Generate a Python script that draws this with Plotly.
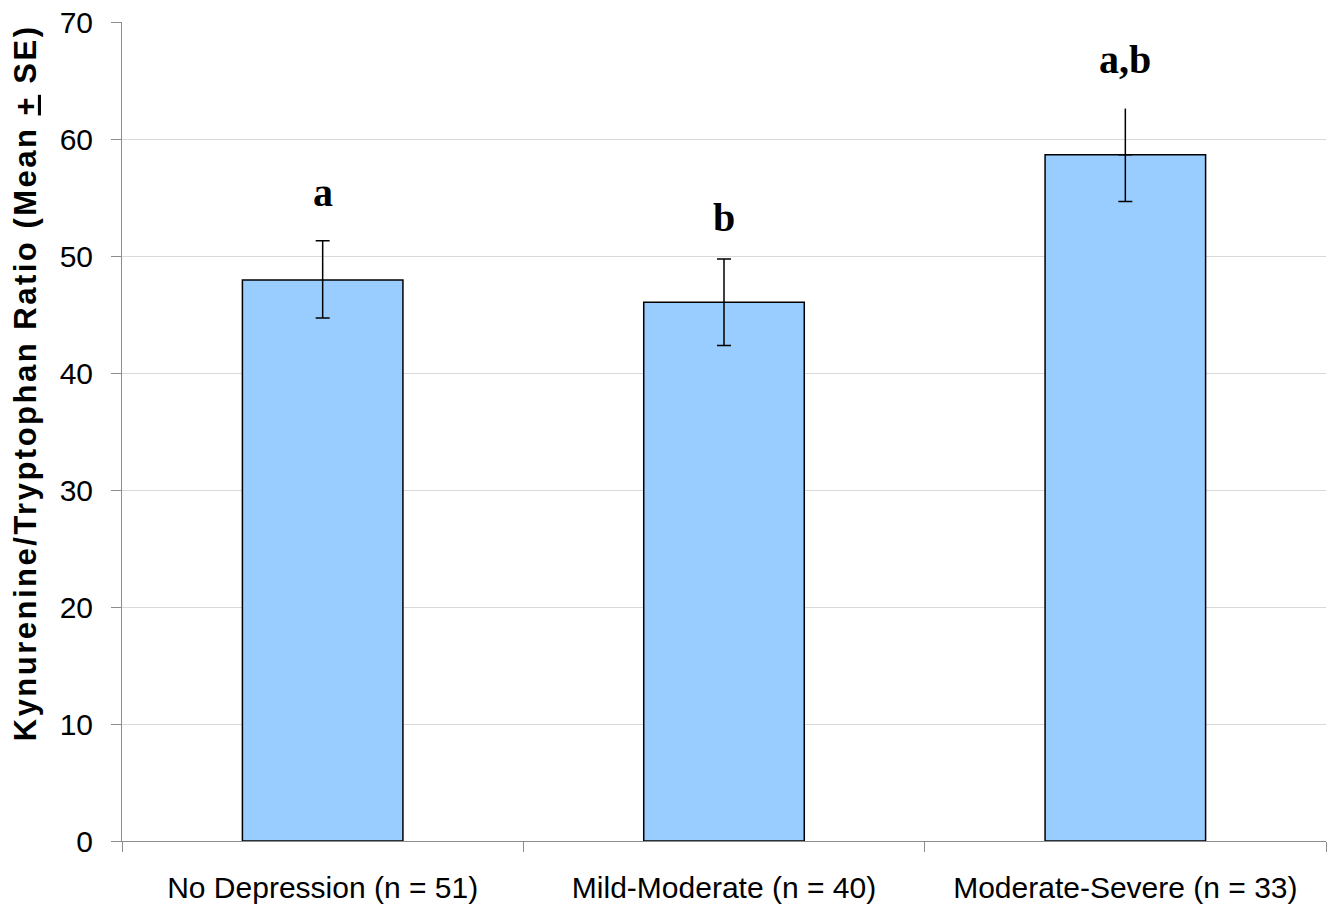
import plotly.graph_objects as go

categories = ["No Depression (n = 51)", "Mild-Moderate (n = 40)", "Moderate-Severe (n = 33)"]
means = [47.95, 46.05, 58.65]
se_upper = [3.35, 3.7, 3.95]
se_lower = [3.25, 3.7, 4.0]
sig_labels = ["a", "b", "a,b"]
sig_label_y = [53.3, 51.2, 64.7]
upper_cap = [True, True, False]
y_title = "Kynurenine/Tryptophan Ratio (Mean <u>+</u> SE)"

fig = go.Figure()
fig.add_trace(go.Bar(
    x=categories, y=means,
    marker=dict(color="#99CCFF", line=dict(color="black", width=1.5)),
    showlegend=False, hoverinfo="skip",
))

for i, c in enumerate(categories):
    if upper_cap[i]:
        fig.add_trace(go.Scatter(
            x=[c], y=[means[i]], mode="markers", marker=dict(size=1, opacity=0),
            error_y=dict(type="data", symmetric=False, array=[se_upper[i]], arrayminus=[se_lower[i]],
                         color="black", thickness=1.5, width=7),
            showlegend=False, hoverinfo="skip"))
    else:
        fig.add_trace(go.Scatter(
            x=[c], y=[means[i]], mode="markers", marker=dict(size=1, opacity=0),
            error_y=dict(type="data", symmetric=False, array=[se_upper[i]], arrayminus=[0],
                         color="black", thickness=1.5, width=0),
            showlegend=False, hoverinfo="skip"))
        fig.add_trace(go.Scatter(
            x=[c], y=[means[i]], mode="markers", marker=dict(size=1, opacity=0),
            error_y=dict(type="data", symmetric=False, array=[0], arrayminus=[se_lower[i]],
                         color="black", thickness=1.5, width=7),
            showlegend=False, hoverinfo="skip"))

for c, lab, ly in zip(categories, sig_labels, sig_label_y):
    fig.add_annotation(x=c, y=ly, text="<b>%s</b>" % lab, showarrow=False,
                       yanchor="bottom", xanchor="center",
                       font=dict(family="Liberation Serif, Times New Roman, serif", size=40, color="black"))

# y-axis title as a rotated annotation (placed like the reference, not centred on the axis)
fig.add_annotation(
    xref="paper", yref="paper", x=-0.0805, y=0.559,
    xanchor="center", yanchor="middle", textangle=-90, showarrow=False,
    text='<span style="letter-spacing:2.5px"><b>%s</b></span>' % y_title,
    font=dict(family="Liberation Sans, Arial, sans-serif", size=31, color="black"),
)

fig.update_layout(
    width=1332, height=908,
    margin=dict(l=122, r=6, t=22, b=67, autoexpand=False),
    paper_bgcolor="white", plot_bgcolor="white",
    bargap=0.6,
    font=dict(family="Liberation Sans, Arial, sans-serif", color="black"),
)
fig.update_xaxes(
    showline=True, linecolor="#8c8c8c", linewidth=1,
    ticks="outside", tickson="boundaries", ticklen=10, tickcolor="#8c8c8c",
    tickfont=dict(size=30, color="black"), ticklabelstandoff=20,
    showgrid=False, automargin=False,
)
fig.update_yaxes(
    range=[0, 70], dtick=10,
    showline=True, linecolor="#8c8c8c", linewidth=1,
    ticks="outside", ticklen=10, tickcolor="#8c8c8c",
    tickfont=dict(size=30, color="black"), ticklabelstandoff=12,
    ticklabeloverflow="allow", automargin=False,
    showgrid=True, gridcolor="#d9d9d9", gridwidth=1, zeroline=False,
)

fig.write_html("out.html",
               config={"displayModeBar": False, "staticPlot": True},
               post_script="document.body.style.margin='0';document.body.style.overflow='hidden';")
